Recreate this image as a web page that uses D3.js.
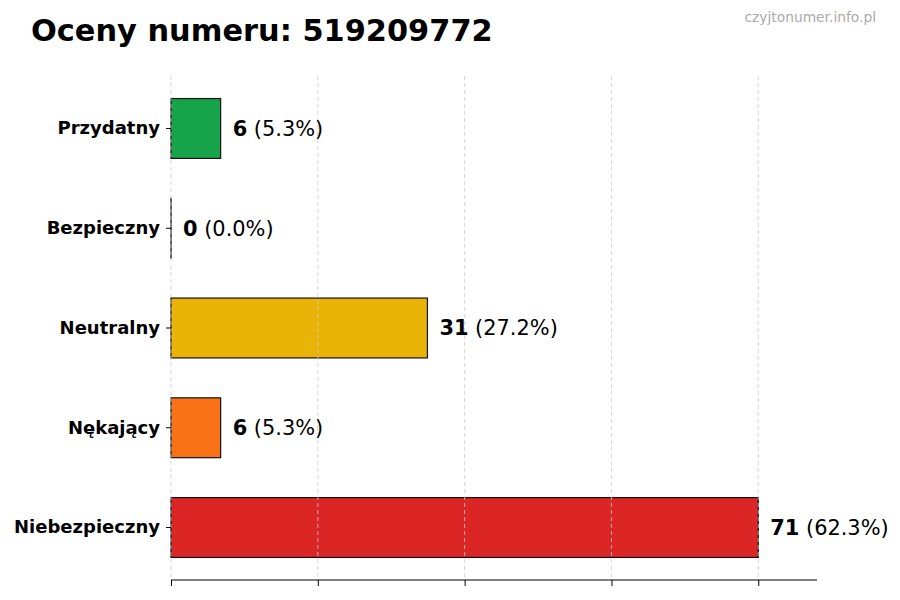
<!DOCTYPE html>
<html>
<head>
<meta charset="utf-8">
<script src="https://cdn.jsdelivr.net/npm/d3@7"></script>
<style>
  body { margin: 0; background: #fff; }
  text { font-family: "DejaVu Sans", sans-serif; }
</style>
</head>
<body>
<svg id="chart" width="900" height="600"></svg>
<script>
// data
const categories = ['Przydatny', 'Bezpieczny', 'Neutralny', 'Nękający', 'Niebezpieczny'];
const counts = [6, 0, 31, 6, 71];
const percents = ['5.3%', '0.0%', '27.2%', '5.3%', '62.3%'];
const barColors = ['#16a34a', '#6b7280', '#eab308', '#f97316', '#dc2626'];
const title = 'Oceny numeru: 519209772';
const watermark = 'czyjtonumer.info.pl';

const svg = d3.select('#chart');
const plotLeft = 171, plotRight = 817, plotTop = 76, plotBottom = 580;

const maxCount = d3.max(counts);
const x = d3.scaleLinear()
    .domain([0, maxCount * 1.1])
    .range([plotLeft, plotRight]);
const y = d3.scaleBand()
    .domain(categories)
    .range([plotTop, plotBottom])
    .paddingInner(0.4)
    .paddingOuter(0.226);

// ticks at quarters of the max, like the original
const tickValues = d3.range(5).map(i => maxCount * i / 4);

svg.append('text')
    .attr('x', 31)
    .attr('y', 41)
    .attr('font-size', 30.4)
    .attr('font-weight', 'bold')
    .text(title);

svg.append('text')
    .attr('x', 876)
    .attr('y', 22)
    .attr('text-anchor', 'end')
    .attr('font-size', 13.8)
    .attr('fill', '#aaaaaa')
    .text(watermark);

// bars (zero bar keeps a hairline so its edge still shows)
svg.append('g')
    .selectAll('rect')
    .data(categories)
    .join('rect')
    .attr('x', x(0))
    .attr('y', d => y(d))
    .attr('width', (d, i) => Math.max(x(counts[i]) - x(0), 0.1))
    .attr('height', y.bandwidth())
    .attr('fill', (d, i) => barColors[i])
    .attr('stroke', '#111')
    .attr('stroke-width', 1.2);

// grid on top of bars
svg.append('g')
    .selectAll('line')
    .data(tickValues)
    .join('line')
    .attr('x1', d => x(d))
    .attr('x2', d => x(d))
    .attr('y1', plotTop)
    .attr('y2', plotBottom)
    .attr('stroke', '#cccccc')
    .attr('stroke-width', 0.8)
    .attr('stroke-dasharray', '4,3');

// x axis, no labels
const xAxis = svg.append('g')
    .attr('transform', `translate(0,${plotBottom})`)
    .call(d3.axisBottom(x).tickValues(tickValues).tickSize(6).tickFormat(''));
xAxis.select('.domain').attr('stroke', '#000').attr('stroke-width', 1.2).attr('d', `M${plotLeft},0H${plotRight}`);
xAxis.selectAll('.tick line').attr('stroke', '#000').attr('stroke-width', 1);

// y axis: ticks and labels only
const yAxis = svg.append('g')
    .attr('transform', `translate(${plotLeft},0)`)
    .call(d3.axisLeft(y).tickSize(5).tickPadding(6));
yAxis.select('.domain').remove();
yAxis.selectAll('.tick line').attr('stroke', '#000');
yAxis.selectAll('.tick text')
    .attr('font-family', '"DejaVu Sans", sans-serif')
    .attr('font-size', 18)
    .attr('font-weight', 'bold')
    .attr('fill', '#000');

// value labels
const labels = svg.append('g')
    .selectAll('text')
    .data(categories)
    .join('text')
    .attr('x', (d, i) => x(counts[i]) + 12)
    .attr('y', d => y(d) + y.bandwidth() / 2)
    .attr('dy', '0.35em')
    .attr('font-size', 20.9);
labels.append('tspan')
    .attr('font-weight', 'bold')
    .text((d, i) => counts[i]);
labels.append('tspan')
    .text((d, i) => ` (${percents[i]})`);
</script>
</body>
</html>
